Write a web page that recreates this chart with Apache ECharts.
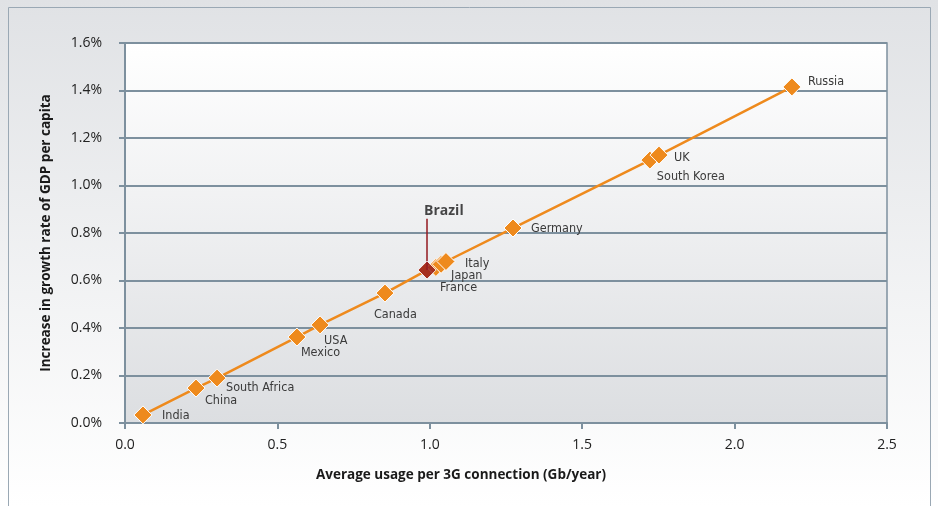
<!DOCTYPE html>
<html>
<head>
<meta charset="utf-8">
<script src="https://cdn.jsdelivr.net/npm/echarts@6/dist/echarts.min.js"></script>
<style>
html,body{margin:0;padding:0;background:#fff;}
#chart{width:938px;height:506px;}
</style>
</head>
<body>
<div id="chart"></div>
<script>
// ---- data ----
const countries = ['India','China','South Africa','Mexico','USA','Canada','Brazil','France','Japan','Italy','Germany','South Korea','UK','Russia'];
const usage =     [0.059, 0.233, 0.302, 0.564, 0.640, 0.853, 0.991, 1.020, 1.037, 1.053, 1.273, 1.722, 1.752, 2.188];
const growth =    [0.034, 0.147, 0.189, 0.362, 0.413, 0.547, 0.644, 0.655, 0.668, 0.680, 0.821, 1.107, 1.128, 1.415];
const xTicks = ['0.0','0.5','1.0','1.5','2.0','2.5'];
const yTicks = ['0.0%','0.2%','0.4%','0.6%','0.8%','1.0%','1.2%','1.4%','1.6%'];
const highlight = 'Brazil';
const brazilLabelTop = 0.86;

// ---- layout of point labels (pixel offsets from marker centre) ----
const labelOffsets = {
  'India':[19,1], 'China':[9,13], 'South Africa':[9,10], 'Mexico':[4,16], 'USA':[4,16],
  'Canada':[-11,22], 'Brazil':[-3,-59], 'France':[4,20], 'Japan':[10,11], 'Italy':[19,2],
  'Germany':[18,1], 'South Korea':[7,17], 'UK':[15,3], 'Russia':[16,-5]
};

const ORANGE = '#ee8a1d';
const DARKRED = '#93191f';
const GRID = '#7d909e';
const FONT = '"Open Sans", "DejaVu Sans", sans-serif';
const NARROW = '"Liberation Sans Narrow", "DejaVu Sans Condensed", sans-serif';

function makeLabel(c) {
  const isH = c === highlight;
  return {
    show: true,
    formatter: c,
    position: 'inside',
    align: 'left',
    verticalAlign: 'middle',
    offset: labelOffsets[c],
    color: isH ? '#1a1a1a' : '#3a3a3a',
    fontFamily: isH ? FONT : NARROW,
    fontSize: isH ? 14 : 12.5,
    fontWeight: isH ? 'bold' : 'normal'
  };
}

const lineData = countries.map((c, i) => ({
  name: c,
  value: [usage[i], growth[i]],
  label: c === highlight ? {show: false} : makeLabel(c)
}));

const hIdx = countries.indexOf(highlight);
const highlightData = [{
  name: highlight,
  value: [usage[hIdx], growth[hIdx]],
  label: makeLabel(highlight)
}];

const chart = echarts.init(document.getElementById('chart'), null, {renderer: 'canvas'});
chart.setOption({
  animation: false,
  backgroundColor: {
    type: 'linear', x: 0, y: 0, x2: 0, y2: 1,
    colorStops: [{offset: 0, color: '#e0e2e5'}, {offset: 1, color: '#ffffff'}]
  },
  graphic: [{
    type: 'rect',
    shape: {x: 8.5, y: 7.5, width: 922, height: 520},
    style: {fill: 'none', stroke: '#9aa8b4', lineWidth: 1},
    z: 0
  }],
  grid: {
    left: 125, right: 51, top: 43, bottom: 83,
    show: true,
    borderColor: GRID, borderWidth: 1.5,
    backgroundColor: {
      type: 'linear', x: 0, y: 0, x2: 0, y2: 1,
      colorStops: [{offset: 0, color: '#ffffff'}, {offset: 1, color: '#dcdee1'}]
    }
  },
  xAxis: {
    type: 'value', min: 0, max: 2.5, interval: 0.5,
    name: 'Average usage per 3G connection (Gb/year)',
    nameLocation: 'middle', nameGap: 45,
    nameTextStyle: {fontFamily: FONT, fontSize: 13.5, fontWeight: 'bold', color: '#1a1a1a', padding: [0, 90, 0, 0]},
    axisLine: {show: true, lineStyle: {color: GRID, width: 2}},
    axisTick: {show: true, length: 6, lineStyle: {color: GRID, width: 2}},
    axisLabel: {
      margin: 15, fontFamily: FONT, fontSize: 14, color: '#222',
      formatter: (v) => xTicks[Math.round(v / 0.5)]
    },
    splitLine: {show: false}
  },
  yAxis: {
    type: 'value', min: 0, max: 1.6, interval: 0.2,
    name: 'Increase in growth rate of GDP per capita',
    nameLocation: 'middle', nameGap: 72, nameRotate: 90,
    nameTextStyle: {fontFamily: FONT, fontSize: 13.5, fontWeight: 'bold', color: '#1a1a1a'},
    axisLine: {show: true, lineStyle: {color: GRID, width: 2}},
    axisTick: {show: true, length: 6, lineStyle: {color: GRID, width: 2}},
    axisLabel: {
      margin: 23, fontFamily: FONT, fontSize: 14, color: '#222',
      formatter: (v) => yTicks[Math.round(v / 0.2)]
    },
    splitLine: {show: true, lineStyle: {color: GRID, width: 2}}
  },
  series: [{
    type: 'line',
    data: lineData,
    symbol: 'diamond',
    symbolSize: 18,
    lineStyle: {color: ORANGE, width: 2.5},
    itemStyle: {color: ORANGE, borderColor: '#ffffff', borderWidth: 1},
    z: 3,
    markLine: {
      silent: true,
      symbol: 'none',
      label: {show: false},
      lineStyle: {color: DARKRED, width: 1.5, type: 'solid'},
      data: [[
        {coord: [usage[hIdx], growth[hIdx]]},
        {coord: [usage[hIdx], brazilLabelTop]}
      ]]
    }
  }, {
    type: 'scatter',
    data: highlightData,
    symbol: 'diamond',
    symbolSize: 18,
    itemStyle: {color: DARKRED, borderColor: '#ffffff', borderWidth: 1},
    z: 5
  }]
});
</script>
</body>
</html>
